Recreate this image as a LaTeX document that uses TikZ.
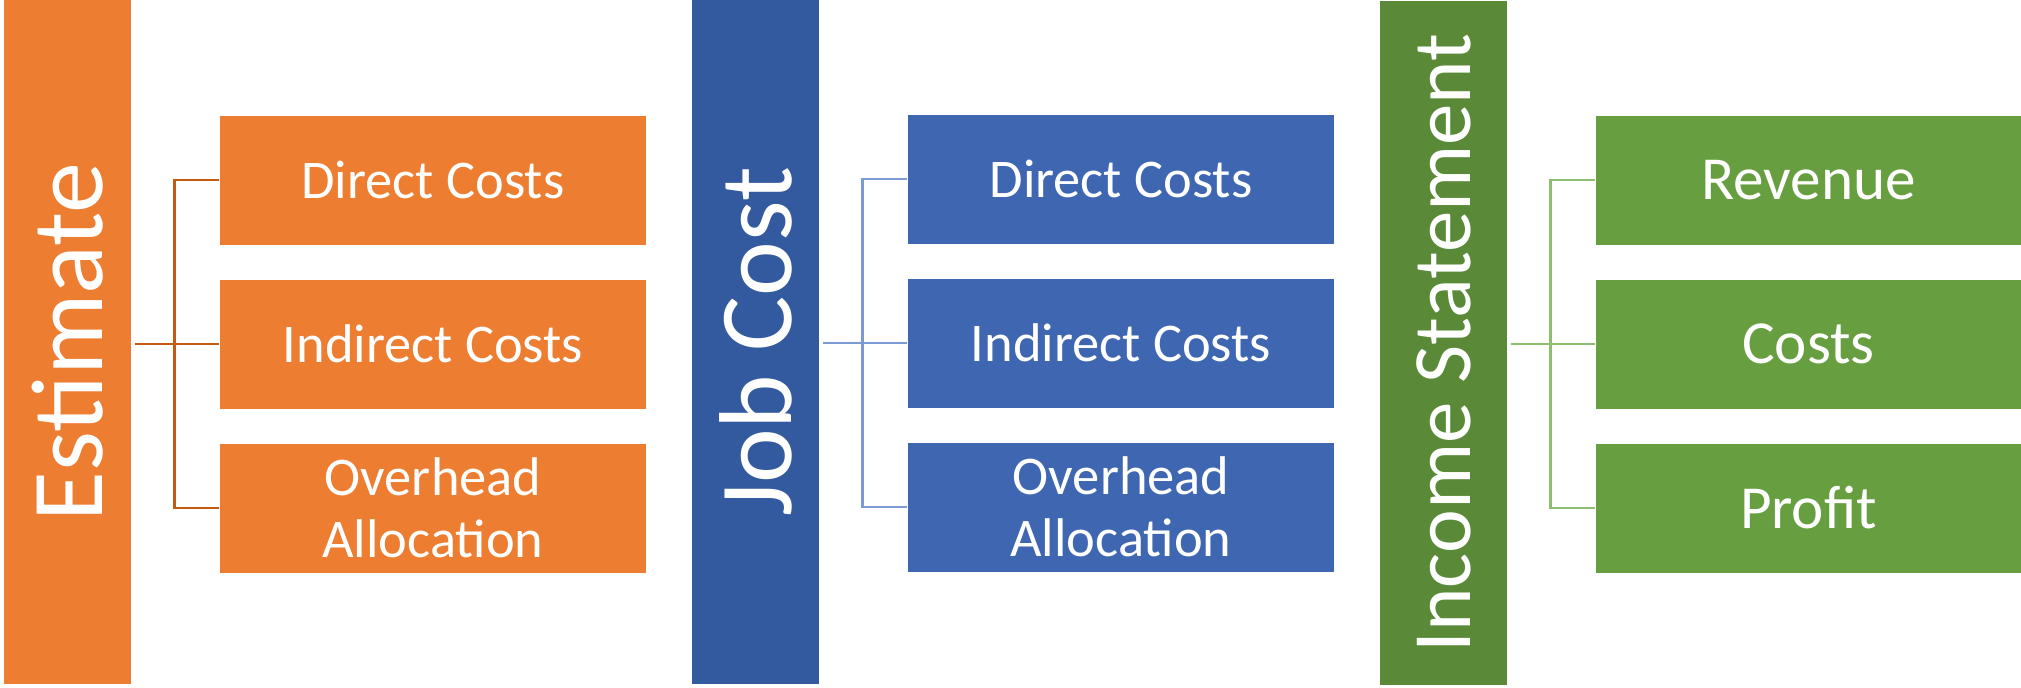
\documentclass[tikz,border=0pt]{standalone}
\usepackage{fontspec}
\setmainfont{Carlito}
\usetikzlibrary{positioning}

\definecolor{estbar}{HTML}{ED7D31}
\definecolor{estbox}{HTML}{ED7D31}
\definecolor{estline}{HTML}{C55A11}
\definecolor{jobbar}{HTML}{335A9E}
\definecolor{jobbox}{HTML}{3F67B1}
\definecolor{jobline}{HTML}{7C9BD6}
\definecolor{incbar}{HTML}{5A8A38}
\definecolor{incbox}{HTML}{679E40}
\definecolor{incline}{HTML}{8DC06E}

\begin{document}
\begin{tikzpicture}[node distance={16.4mm}, box/.style = {minimum width=42.6mm, minimum height=12.9mm, inner sep=0pt, text=white, align=center}]
                \tikzstyle{bar} = [rotate=90, minimum width=68.4mm, minimum height=12.7mm, inner sep=0pt, text=white]
                \tikzstyle{small} = [font=\fontsize{15.5}{17.6}\selectfont]
                \tikzstyle{big} = [font=\fontsize{17.4}{20}\selectfont]
                \tikzstyle{link} = [line width=0.8pt]
                    \useasboundingbox (0,0) rectangle (20.21,-6.87);

                    % three tall bars
                    \node[bar, fill=estbar, font=\fontsize{29}{34}\selectfont] (est) at (0.675,-3.42) {Estimate};
                    \node[bar, fill=jobbar, font=\fontsize{29.5}{34}\selectfont] (job) at (7.555,-3.42) {Job Cost};
                    \node[bar, fill=incbar, font=\fontsize{23.6}{28}\selectfont] (inc) at (14.435,-3.43) {Income Statement};

                    % estimate boxes
                    \node[box, small, fill=estbox] (ec1) at (4.33,-1.80) {Direct Costs};
                    \node[box, small, fill=estbox] (ec2) [below of=ec1] {Indirect Costs};
                    \node[box, small, fill=estbox] (ec3) [below of=ec2] {Overhead\\Allocation};

                    % job cost boxes
                    \node[box, small, fill=jobbox] (jc1) at (11.21,-1.79) {Direct Costs};
                    \node[box, small, fill=jobbox] (jc2) [below of=jc1] {Indirect Costs};
                    \node[box, small, fill=jobbox] (jc3) [below of=jc2] {Overhead\\Allocation};

                    % income statement boxes
                    \node[box, big, fill=incbox] (ic1) at (18.085,-1.80) {Revenue};
                    \node[box, big, fill=incbox] (ic2) [below of=ic1] {Costs};
                    \node[box, big, fill=incbox] (ic3) [below of=ic2] {Profit};

                    \draw[link, estline] (est.south |- ec2.west) ++(0.03,0) -- (ec2.west);
                    \draw[link, estline] (ec1.west) -- ++(-0.45,0) |- (ec3.west);

                    \draw[link, jobline] (job.south |- jc2.west) ++(0.03,0) -- (jc2.west);
                    \draw[link, jobline] (jc1.west) -- ++(-0.45,0) |- (jc3.west);

                    \draw[link, incline] (inc.south |- ic2.west) ++(0.03,0) -- (ic2.west);
                    \draw[link, incline] (ic1.west) -- ++(-0.44,0) |- (ic3.west);

                \end{tikzpicture}
\end{document}
